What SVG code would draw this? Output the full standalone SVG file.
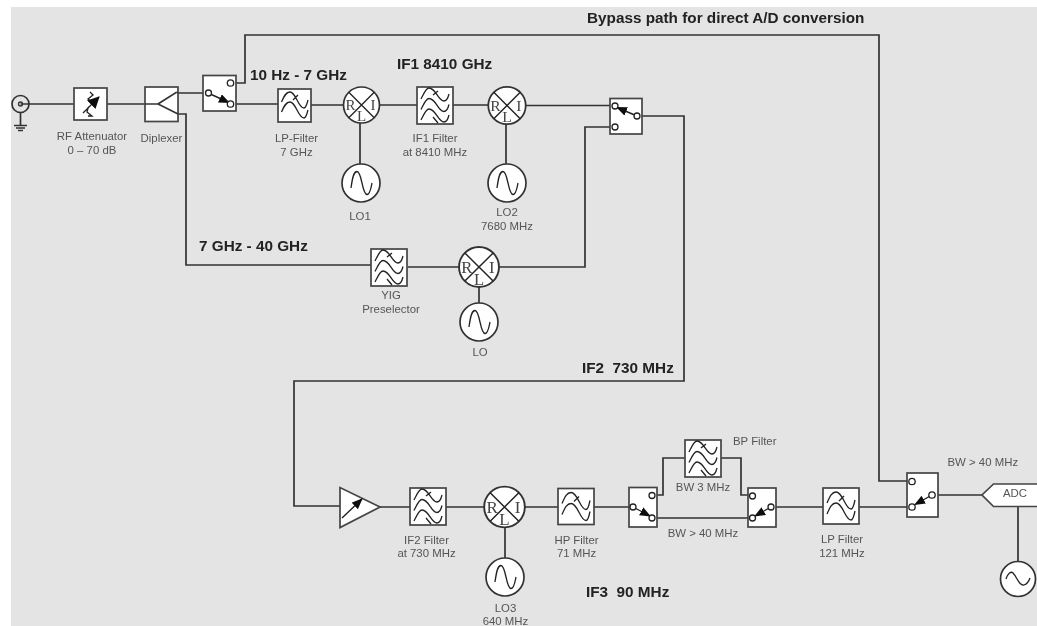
<svg xmlns="http://www.w3.org/2000/svg" width="1037" height="626" viewBox="0 0 1037 626">
<style>
text{font-family:"Liberation Sans",Arial,sans-serif;font-size:11.4px;fill:#555;text-anchor:middle;white-space:pre}
text.b{font-weight:bold;font-size:15.3px;fill:#222;text-anchor:start}
text.m{font-family:"Liberation Serif","Times New Roman",serif;font-size:15px;fill:#444}
.w{fill:none;stroke:#333;stroke-width:1.7}
.box{fill:#fff;stroke:#444;stroke-width:1.7}
.sym{fill:none;stroke:#222;stroke-width:1.3}
.con{fill:#fff;stroke:#222;stroke-width:1.3}
.arr{stroke:#222;stroke-width:1.4;fill:none;marker-end:url(#ah)}
</style>
<defs>
<filter id="soft" filterUnits="userSpaceOnUse" x="0" y="0" width="1037" height="626"><feGaussianBlur stdDeviation="0.35"/></filter>
<marker id="ah" markerUnits="userSpaceOnUse" markerWidth="12" markerHeight="10" refX="10" refY="4.500" orient="auto"><path d="M0 0L11 4.500L0 9Z" fill="#111"/></marker>
<marker id="ahb" markerUnits="userSpaceOnUse" markerWidth="14" markerHeight="14" refX="11" refY="6" orient="auto"><path d="M0 0L12 6L0 12Z" fill="#111"/></marker>
<g id="f2"><rect class="box" width="33" height="33"/><path class="sym" d="M3.500 13C6 7 8 3 12 3C18 3 20 19 26 19C28 19 29 15 30 11M3.500 23C6 17 8 13 12 13C18 13 20 29 26 29C28 29 29 25 30 21M15 11L20 6"/></g>
<g id="f2b"><rect class="box" width="36" height="36"/><path class="sym" d="M4 15C7 8 9 4 13 4C20 4 22 21 28 21C30 21 31 17 32 12M4 26C7 19 9 15 13 15C20 15 22 32 28 32C30 32 31 28 32 23M16 13L21 8"/></g>
<g id="f3"><rect class="box" width="36" height="37"/><path class="sym" d="M4 12C7 6 9 1 12 1C19 1 21 14 27 14C29 14 31 11 32 7M4 22.500C7 16.500 9 11.500 12 11.500C19 11.500 21 24.500 27 24.500C29 24.500 31 21.500 32 17.500M4 33C7 27 9 22 12 22C19 22 21 35 27 35C29 35 31 32 32 28M16 8L21 4M16 30L21 36"/></g>
<g id="mx"><circle r="18" fill="#fff" stroke="#333" stroke-width="1.700"/><path class="sym" d="M-12.700 -12.700L12.700 12.700M12.700 -12.700L-12.700 12.700"/><text class="m" x="-11" y="5">R</text><text class="m" x="11.500" y="5">I</text><text class="m" y="16">L</text></g>
<g id="lo"><circle r="19" fill="#fff" stroke="#333" stroke-width="1.700"/><path class="sym" d="M-10 5C-9 -2 -8 -11.500 -4 -11.500C1 -11.500 1 11.500 6 11.500C9 11.500 10 5 11 0"/></g>
</defs>
<rect x="11" y="7" width="1026" height="619" fill="#e4e4e4"/>
<g filter="url(#soft)">
<g id="connectors" class="w">
<path d="M29 104H74M107 104H145M176 93H205M178 114H186V265H371"/>
<path d="M234 83H245V35H879V481H908"/>
<path d="M234 104H278M311 105H344M380 105H417M453 105H488M526 105.500H612"/>
<path d="M360 122V164M506 123V164"/>
<path d="M611 127H585V267H408M641 116H684V381H294V506H340"/>
<path d="M479 287V304"/>
<path d="M380 507H410M446 507H484M525 507H558M594 507H630"/>
<path d="M505 527V558"/>
<path d="M656 495H663V458H685M721 458H741V495H750M656 518H750M775 507H823M859 507H908M937 495H982M1018 507V562"/>
</g>

<g id="rf-input"><circle cx="20.500" cy="104" r="8.500" fill="none" stroke="#333" stroke-width="1.700"/><circle cx="20.500" cy="104" r="2" fill="none" stroke="#333" stroke-width="1.300"/><path class="w" d="M20.500 104H29M20.500 113V125M14 125.500H27M16 128H25M18 130.500H23"/></g>
<g id="rf-attenuator"><rect class="box" x="74" y="88" width="33" height="32"/><path class="sym" d="M83 113L88 108L87 112L92 116L88 116M90 92L93 95L88 99L92 102"/><path class="sym" d="M88 108L99 97" marker-end="url(#ahb)"/><text x="92" y="140">RF Attenuator</text><text x="92" y="153.500">0 – 70 dB</text></g>
<g id="diplexer"><rect class="box" x="145" y="87" width="33" height="34.500"/><path class="w" d="M178 92.500H176L158 104L178 114M145 104H158"/><text x="161.500" y="141.500">Diplexer</text></g>
<g id="switch-1"><rect class="box" x="203" y="75.500" width="33" height="35.500"/><path class="arr" d="M208 93L229 102.500"/><circle class="con" cx="208.500" cy="93" r="3"/><circle class="con" cx="230.500" cy="83" r="3.200"/><circle class="con" cx="230.500" cy="104" r="3.200"/></g>
<g id="lp-filter-7"><use href="#f2" x="278" y="89"/><text x="296.500" y="142">LP-Filter</text><text x="296.500" y="156">7 GHz</text></g>
<g id="mixer-1"><use href="#mx" x="361.500" y="105"/></g>
<g id="lo1"><use href="#lo" x="361" y="183"/><text x="360" y="220">LO1</text></g>
<g id="if1-filter"><use href="#f3" x="417" y="87"/><text x="435" y="142">IF1 Filter</text><text x="435" y="156">at 8410 MHz</text></g>
<g id="mixer-2"><use href="#mx" transform="translate(507 105.500) scale(1.040)"/></g>
<g id="lo2"><use href="#lo" x="507" y="183"/><text x="507" y="216">LO2</text><text x="507" y="229.500">7680 MHz</text></g>
<g id="switch-2"><rect class="box" x="610" y="98.500" width="32" height="35.500"/><path class="arr" d="M637 116L617 107.500"/><circle class="con" cx="615" cy="106" r="3"/><circle class="con" cx="615" cy="127" r="3"/><circle class="con" cx="637" cy="116" r="3"/></g>
<g id="yig"><use href="#f3" x="371" y="249"/><text x="391" y="298.500">YIG</text><text x="391" y="312.500">Preselector</text></g>
<g id="mixer-3"><use href="#mx" transform="translate(479 267) scale(1.110)"/></g>
<g id="lo0"><use href="#lo" x="479" y="322"/><text x="480" y="356">LO</text></g>
<g id="amplifier"><path class="box" d="M340 487.500V527.500L380 507Z"/><path class="arr" d="M342 518L362 499"/></g>
<g id="if2-filter"><use href="#f3" x="410" y="488"/><text x="426.500" y="543.500">IF2 Filter</text><text x="426.500" y="557">at 730 MHz</text></g>
<g id="mixer-4"><use href="#mx" transform="translate(504.500 507) scale(1.130)"/></g>
<g id="lo3"><use href="#lo" x="505" y="577"/><text x="505.500" y="611.500">LO3</text><text x="505.500" y="625">640 MHz</text></g>
<g id="hp-filter"><use href="#f2b" x="558" y="488.500"/><text x="576.500" y="543.500">HP Filter</text><text x="576.500" y="557">71 MHz</text></g>
<g id="switch-3"><rect class="box" x="629" y="487.500" width="28" height="39.500"/><path class="arr" d="M633 507L650 516"/><circle class="con" cx="633" cy="507" r="3"/><circle class="con" cx="652" cy="495.500" r="3"/><circle class="con" cx="652" cy="518" r="3"/></g>
<g id="bp-filter"><use href="#f3" x="685" y="440"/><text x="733" y="444.500" style="text-anchor:start">BP Filter</text><text x="703" y="490.500">BW 3 MHz</text></g>
<text x="703" y="536.500">BW &gt; 40 MHz</text>
<g id="switch-4"><rect class="box" x="748" y="488" width="28" height="39"/><path class="arr" d="M771 507L755 516"/><circle class="con" cx="752.500" cy="496" r="3"/><circle class="con" cx="752.500" cy="518" r="3"/><circle class="con" cx="771" cy="507" r="3"/></g>
<g id="lp-filter-121"><use href="#f2b" x="823" y="488"/><text x="842" y="543">LP Filter</text><text x="842" y="557">121 MHz</text></g>
<g id="switch-5"><rect class="box" x="907" y="473" width="31" height="44"/><path class="arr" d="M932 495L915 504.500"/><circle class="con" cx="912" cy="481.500" r="3.200"/><circle class="con" cx="912" cy="507" r="3.200"/><circle class="con" cx="932" cy="495" r="3.200"/><text x="947.500" y="466" style="text-anchor:start">BW &gt; 40 MHz</text></g>
<g id="adc"><path class="box" d="M1039 484H993.500L982 495L993.500 506.500H1039Z"/><text x="1015" y="497">ADC</text></g>
<g id="adc-clock"><circle cx="1018" cy="579" r="17.500" fill="#fff" stroke="#333" stroke-width="1.700"/><path class="sym" d="M1006 579C1008 573 1011 571 1013 573C1017 577 1019 586 1024 585C1027 584 1029 581 1030 578"/></g>

<text class="b" x="587" y="23">Bypass path for direct A/D conversion</text>
<text class="b" x="250" y="80">10 Hz - 7 GHz</text>
<text class="b" x="397" y="69">IF1 8410 GHz</text>
<text class="b" x="199" y="250.500">7 GHz - 40 GHz</text>
<text class="b" x="582" y="373">IF2  730 MHz</text>
<text class="b" x="586" y="597">IF3  90 MHz</text>
</g>
</svg>
